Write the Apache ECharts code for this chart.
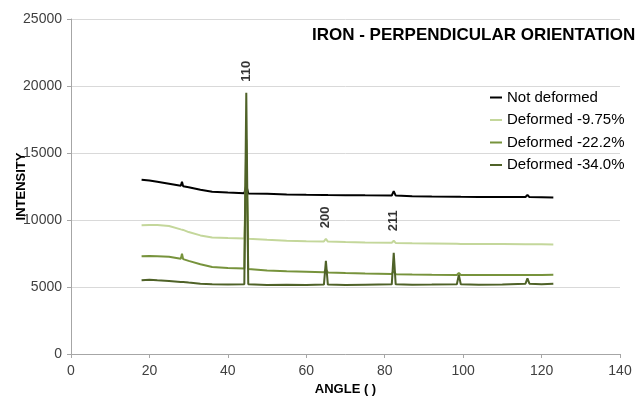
<!DOCTYPE html>
<html><head><meta charset="utf-8">
<script src="https://cdn.jsdelivr.net/npm/echarts@6/dist/echarts.min.js"></script>
<style>html,body{margin:0;padding:0;background:#fff}#c{width:635px;height:401px}</style>
</head><body><div id="c"></div>
<script>
const angles = [18, 20, 22, 25, 28, 28.3, 28.6, 30, 33, 36, 40, 44.2, 44.7, 45.2, 50, 55, 60, 64.5, 65, 65.5, 70, 75, 81.8, 82.3, 82.8, 87, 92, 98.4, 98.9, 99.4, 104, 110, 115.9, 116.4, 116.9, 120, 123];
const notDeformed = [13000, 12950, 12850, 12700, 12550, 12850, 12520, 12450, 12250, 12100, 12050, 12000, 12600, 11980, 11950, 11900, 11880, 11870, 11900, 11860, 11850, 11840, 11830, 12150, 11820, 11780, 11750, 11740, 11820, 11730, 11720, 11720, 11720, 11880, 11710, 11700, 11680];
const deformed975 = [9600, 9620, 9620, 9550, 9300, 9280, 9260, 9100, 8850, 8700, 8650, 8620, 14000, 8600, 8520, 8460, 8420, 8400, 8600, 8390, 8350, 8320, 8300, 8450, 8290, 8260, 8240, 8220, 8260, 8210, 8200, 8200, 8190, 8210, 8190, 8190, 8180];
const deformed222 = [7300, 7320, 7300, 7250, 7100, 7480, 7080, 6950, 6700, 6500, 6420, 6380, 16000, 6350, 6230, 6180, 6140, 6100, 6300, 6090, 6040, 6000, 5970, 6200, 5960, 5930, 5910, 5900, 6050, 5900, 5900, 5900, 5900, 5980, 5900, 5900, 5920];
const deformed340 = [5500, 5550, 5500, 5450, 5380, 5400, 5370, 5330, 5250, 5200, 5180, 5200, 19500, 5200, 5150, 5160, 5150, 5180, 6950, 5180, 5150, 5170, 5200, 7550, 5200, 5170, 5180, 5200, 5900, 5200, 5170, 5180, 5250, 5650, 5250, 5200, 5250];
const seriesNames = ['Not deformed', 'Deformed -9.75%', 'Deformed -22.2%', 'Deformed -34.0%'];
const peakLabels = ['110', '200', '211'];
const peakAngles = [44.7, 65, 82.3];
const peakLabelY = [21100, 10200, 9950];
const xTicks = [0, 140, 20];
const yTicks = [0, 25000, 5000];

const colors = ['#000000', '#c4d79b', '#77933c', '#4f6228'];
const allValues = [notDeformed, deformed975, deformed222, deformed340];
function pairs(v) { return angles.map((a, i) => [a, v[i]]); }

const chart = echarts.init(document.getElementById('c'), null, {renderer: 'canvas'});
const font = 'Liberation Sans, Arial, sans-serif';
chart.setOption({
  animation: false,
  title: {
    text: 'IRON - PERPENDICULAR ORIENTATION', left: 312, top: 27, padding: 0,
    textStyle: {fontFamily: font, fontSize: 17, fontWeight: 'bold', color: '#000'}
  },
  legend: {
    orient: 'vertical', left: 490, top: 90, padding: 0,
    itemWidth: 12, itemHeight: 2, itemGap: 7.5, icon: 'rect',
    textStyle: {fontFamily: font, fontSize: 15, color: '#000'},
    data: seriesNames
  },
  grid: {left: 71, right: 15, top: 19, bottom: 47, containLabel: false, outerBoundsMode: 'none'},
  xAxis: {
    type: 'value', min: xTicks[0], max: xTicks[1], interval: xTicks[2],
    name: 'ANGLE ( )', nameLocation: 'middle', nameGap: 29, nameMoveOverlap: false,
    nameTextStyle: {fontFamily: font, fontSize: 13, fontWeight: 'bold', color: '#000'},
    axisLine: {lineStyle: {color: '#a6a6a6'}},
    axisTick: {show: true, length: 4, lineStyle: {color: '#a6a6a6'}},
    axisLabel: {fontFamily: font, color: '#404040', fontSize: 14, margin: 10},
    splitLine: {show: false}
  },
  yAxis: {
    type: 'value', min: yTicks[0], max: yTicks[1], interval: yTicks[2],
    name: 'INTENSITY', nameLocation: 'middle', nameGap: 43, nameMoveOverlap: false,
    nameTextStyle: {fontFamily: font, fontSize: 13, fontWeight: 'bold', color: '#000'},
    axisLine: {show: true, lineStyle: {color: '#a6a6a6'}},
    axisTick: {show: true, length: 4, lineStyle: {color: '#a6a6a6'}},
    axisLabel: {fontFamily: font, color: '#404040', fontSize: 14, margin: 9, formatter: v => String(v)},
    splitLine: {lineStyle: {color: '#d9d9d9'}}
  },
  series: seriesNames.map((n, i) => ({
    name: n, type: 'line', data: pairs(allValues[i]), showSymbol: false, symbol: 'none',
    lineStyle: {color: colors[i], width: 2}, itemStyle: {color: colors[i]}, z: 2 + i
  })).concat([{
    type: 'scatter', silent: true, symbolSize: 0, z: 10,
    data: peakLabels.map((l, i) => ({name: l, value: [peakAngles[i], peakLabelY[i]]})),
    label: {show: true, position: 'inside', rotate: 90, formatter: p => p.name,
      fontFamily: font, fontSize: 13, fontWeight: 'bold', color: '#000'}
  }])
});
</script></body></html>
